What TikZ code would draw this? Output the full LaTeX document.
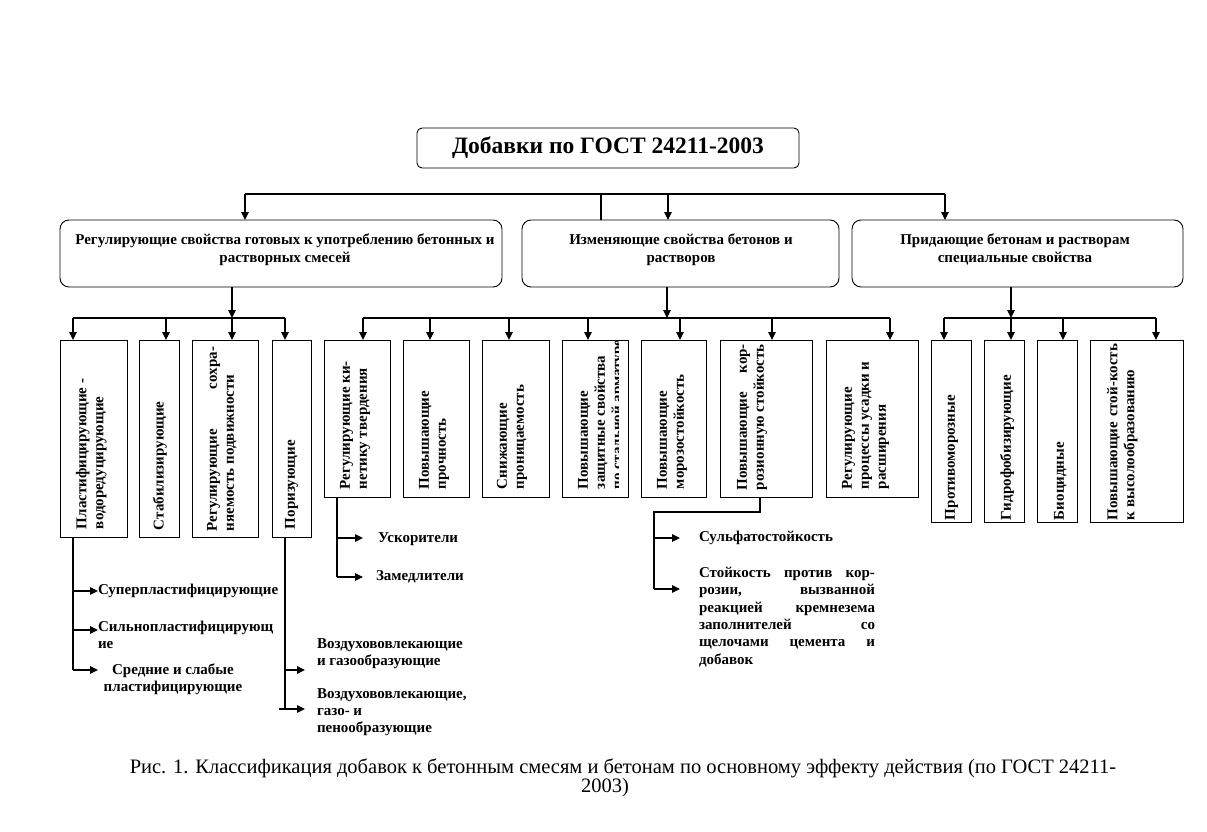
\documentclass[tikz,border=0pt]{standalone}
\usepackage{fontspec}
\setmainfont{Liberation Serif}
\usetikzlibrary{arrows.meta}
\newcommand\jl[2]{\makebox[#1pt][s]{#2}}
\begin{document}
\begin{tikzpicture}[x=1pt,y=-1pt,
  every node/.style={inner sep=0pt,outer sep=0pt},
  box/.style={draw,line width=0.9pt},
  rbox/.style={draw,line width=0.9pt,rounded corners=9pt},
  ln/.style={line width=1.2pt},
  arr/.style={line width=1.2pt,-{Triangle[length=8pt,width=7.5pt]}},
  bfont/.style={font=\bfseries\fontsize{15}{17}\selectfont},
  vt/.style={bfont,rotate=90,anchor=north west,align=left},
  lbl/.style={bfont,anchor=west,align=left},
  capt/.style={font=\rmfamily\mdseries\upshape\fontsize{20.5}{20}\selectfont},
]
\fill[white] (0,0) rectangle (1207,832);
\useasboundingbox (0,0) rectangle (1207,832);

% title
\node[rbox,rounded corners=5pt,minimum width=382pt,minimum height=40pt,
  font=\bfseries\fontsize{23.5}{26}\selectfont] (T) at (608,148) {Добавки по ГОСТ 24211-2003};

% level 2
\node[rbox,minimum width=442pt,minimum height=67pt] (B1) at (281,253.5) {};
\node[rbox,minimum width=317pt,minimum height=67pt] (B2) at (680.5,253.5) {};
\node[rbox,minimum width=331pt,minimum height=67pt] (B3) at (1017.5,253.5) {};
\node[font=\bfseries\fontsize{15}{18}\selectfont,align=center,anchor=north] (B1t) at (285,233.5) {Регулирующие свойства готовых к употреблению бетонных и\\растворных смесей};
\node[font=\bfseries\fontsize{15}{18}\selectfont,align=center,anchor=north] (B2t) at (681,233.5) {Изменяющие свойства бетонов и\\растворов};
\node[font=\bfseries\fontsize{15}{18}\selectfont,align=center,anchor=north] (B3t) at (1015,233.5) {Придающие бетонам и растворам\\специальные свойства};

% top bus
\coordinate (t1) at (245,194);
\coordinate (t2) at (601,194);
\coordinate (t3) at (668,194);
\coordinate (t4) at (945,194);
\draw[ln] (t1) -- (t4);
\draw[arr] (t1) -- (t1 |- B1.north);
\draw[ln] (t2) -- (t2 |- B2.north);
\draw[arr] (t3) -- (t3 |- B2.north);
\draw[arr] (t4) -- (t4 |- B3.north);

% level 3 boxes
\node[box,minimum width=67pt,minimum height=197pt] (a) at (93.5,438.5) {};
\node[box,minimum width=40pt,minimum height=197pt] (b) at (159,438.5) {};
\node[box,minimum width=66pt,minimum height=197pt] (c) at (225,438.5) {};
\node[box,minimum width=39pt,minimum height=197pt] (d) at (291.5,438.5) {};
\node[box,minimum width=66pt,minimum height=157pt] (e) at (357,418.5) {};
\node[box,minimum width=66pt,minimum height=157pt] (f) at (436,418.5) {};
\node[box,minimum width=67pt,minimum height=157pt] (g) at (515.5,418.5) {};
\node[box,minimum width=66pt,minimum height=157pt] (h) at (595,418.5) {};
\node[box,minimum width=65pt,minimum height=157pt] (i) at (673.5,418.5) {};
\node[box,minimum width=92pt,minimum height=157pt] (j) at (766,418.5) {};
\node[box,minimum width=92pt,minimum height=157pt] (k) at (872,418.5) {};
\node[box,minimum width=40pt,minimum height=182pt] (l) at (951,431) {};
\node[box,minimum width=40pt,minimum height=182pt] (m) at (1004,431) {};
\node[box,minimum width=40pt,minimum height=182pt] (n) at (1057,431) {};
\node[box,minimum width=93pt,minimum height=182pt] (o) at (1136.5,431) {};

% rotated texts
\node[vt] (at) at ([shift={(16,-8)}]a.south west) {Пластифицирующие -\\водоредуцирующие};
\node[vt] (bt) at ([shift={(14,-7)}]b.south west) {Стабилизирующие};
\node[vt] (ct) at ([shift={(15,-6)}]c.south west) {\jl{184}{Регулирующие сохра-}\\няемость подвижности};
\node[vt] (dt) at ([shift={(13,-8)}]d.south west) {Поризующие};
\node[vt] (et) at ([shift={(16,-8)}]e.south west) {Регулирующие ки-\\нетику твердения};
\node[vt] (ft) at ([shift={(16,-8)}]f.south west) {Повышающие\\прочность};
\node[vt] (gt) at ([shift={(15,-8)}]g.south west) {Снижающие\\проницаемость};
\begin{scope}
\clip (h.south west) rectangle ([xshift=-10pt]h.north east);
\node[vt] (ht) at ([shift={(16,-8)}]h.south west) {Повышающие\\защитные свойства\\по стальной арматуре};
\end{scope}
\node[vt] (it) at ([shift={(16,-8)}]i.south west) {Повышающие\\морозостойкость};
\node[vt] (jt) at ([shift={(17,-7)}]j.south west) {\jl{146}{Повышающие кор-}\\розионную стойкость};
\node[vt] (kt) at ([shift={(16,-8)}]k.south west) {Регулирующие\\процессы усадки и\\расширения};
\node[vt] (lt) at ([shift={(14,-2)}]l.south west) {Противоморозные};
\node[vt] (mt) at ([shift={(16,-2)}]m.south west) {Гидрофобизирующие};
\node[vt] (nt) at ([shift={(17,-2)}]n.south west) {Биоцидные};
\node[vt] (ot) at ([shift={(17,-2)}]o.south west) {\jl{176}{Повышающие стой-кость}\\к высолообразованию};

% group 1 bus
\coordinate (g1) at (232,318);
\coordinate (g1a) at (73,318);
\coordinate (g1b) at (166,318);
\coordinate (g1d) at (285,318);
\draw[arr] (g1 |- B1.south) -- (g1);
\draw[ln] (g1a) -- (g1d);
\draw[arr] (g1a) -- (g1a |- a.north);
\draw[arr] (g1b) -- (g1b |- b.north);
\draw[arr] (g1) -- (g1 |- c.north);
\draw[arr] (g1d) -- (g1d |- d.north);

% group 2 bus
\coordinate (g2) at (667,318);
\coordinate (g2e) at (363,318);
\coordinate (g2f) at (430,318);
\coordinate (g2g) at (509,318);
\coordinate (g2h) at (588,318);
\coordinate (g2i) at (680,318);
\coordinate (g2j) at (772,318);
\coordinate (g2k) at (890,318);
\draw[arr] (g2 |- B2.south) -- (g2);
\draw[ln] (g2e) -- (g2k);
\draw[arr] (g2e) -- (g2e |- e.north);
\draw[arr] (g2f) -- (g2f |- f.north);
\draw[arr] (g2g) -- (g2g |- g.north);
\draw[arr] (g2h) -- (g2h |- h.north);
\draw[arr] (g2i) -- (g2i |- i.north);
\draw[arr] (g2j) -- (g2j |- j.north);
\draw[arr] (g2k) -- (g2k |- k.north);

% group 3 bus
\coordinate (g3) at (1011,318);
\coordinate (g3l) at (944,318);
\coordinate (g3n) at (1063,318);
\coordinate (g3o) at (1156,318);
\draw[arr] (g3 |- B3.south) -- (g3);
\draw[ln] (g3l) -- (g3o);
\draw[arr] (g3l) -- (g3l |- l.north);
\draw[arr] (g3) -- (g3 |- m.north);
\draw[arr] (g3n) -- (g3n |- n.north);
\draw[arr] (g3o) -- (g3o |- o.north);

% sub-branches: plasticizers
\node[lbl] (s1) at (98,591) {Суперпластифицирующие};
\node[lbl] (s2) at (98,635) {Сильнопластифицирующ\\ие};
\node[bfont,align=center] (s3) at (173,679) {Средние и слабые\\пластифицирующие};
\coordinate (a0) at (73,537);
\coordinate (a1) at (73,591);
\coordinate (a2) at (73,630);
\coordinate (a3) at (73,670);
\draw[ln] (a0) -- (a3);
\draw[arr] (a1) -- (s1.west |- a1);
\draw[arr] (a2) -- (s2.west |- a2);
\draw[arr] (a3) -- (98,670);

% porous
\node[lbl] (p1) at (317,654) {Воздухововлекающие\\и газообразующие};
\node[lbl] (p2) at (317,712) {Воздухововлекающие,\\газо- и\\пенообразующие};
\coordinate (d0) at (285,537);
\coordinate (d1) at (285,670);
\coordinate (d2) at (285,709);
\coordinate (d2s) at (279,709);
\draw[ln] (d0) -- (d2);
\draw[arr] (d1) -- (305,670);
\draw[arr] (d2s) -- (305,709);

% kinetics
\node[lbl] (k1) at (378,539) {Ускорители};
\node[lbl] (k2) at (376,577) {Замедлители};
\coordinate (e0) at (337,497);
\coordinate (e1) at (337,538);
\coordinate (e2) at (337,577);
\draw[ln] (e0) -- (e2);
\draw[arr] (e1) -- (363,538);
\draw[arr] (e2) -- (363,577);

% corrosion
\node[bfont,anchor=west] (c1) at (699,538) {Сульфатостойкость};
\node[anchor=north west,align=left,font=\bfseries\fontsize{15}{17.4}\selectfont] (c2) at (699,567)
 {\jl{176}{Стойкость против кор-}\\\jl{176}{розии, вызванной}\\\jl{176}{реакцией кремнезема}\\\jl{176}{заполнителей со}\\\jl{176}{щелочами цемента и}\\добавок};
\coordinate (j0) at (760,497);
\coordinate (j1) at (760,512);
\coordinate (j2) at (654,512);
\coordinate (j3) at (654,538);
\coordinate (j4) at (654,589);
\draw[ln] (j0) -- (j1) -- (j2) -- (j4);
\draw[arr] (j3) -- (680,538);
\draw[arr] (j4) -- (680,589);

% caption
\node[capt] (cap1) at (623,768) {Рис. 1. Классификация добавок к бетонным смесям и бетонам по основному эффекту действия (по ГОСТ 24211-};
\node[capt] (cap2) at (605,788) {2003)};
\end{tikzpicture}
\end{document}
